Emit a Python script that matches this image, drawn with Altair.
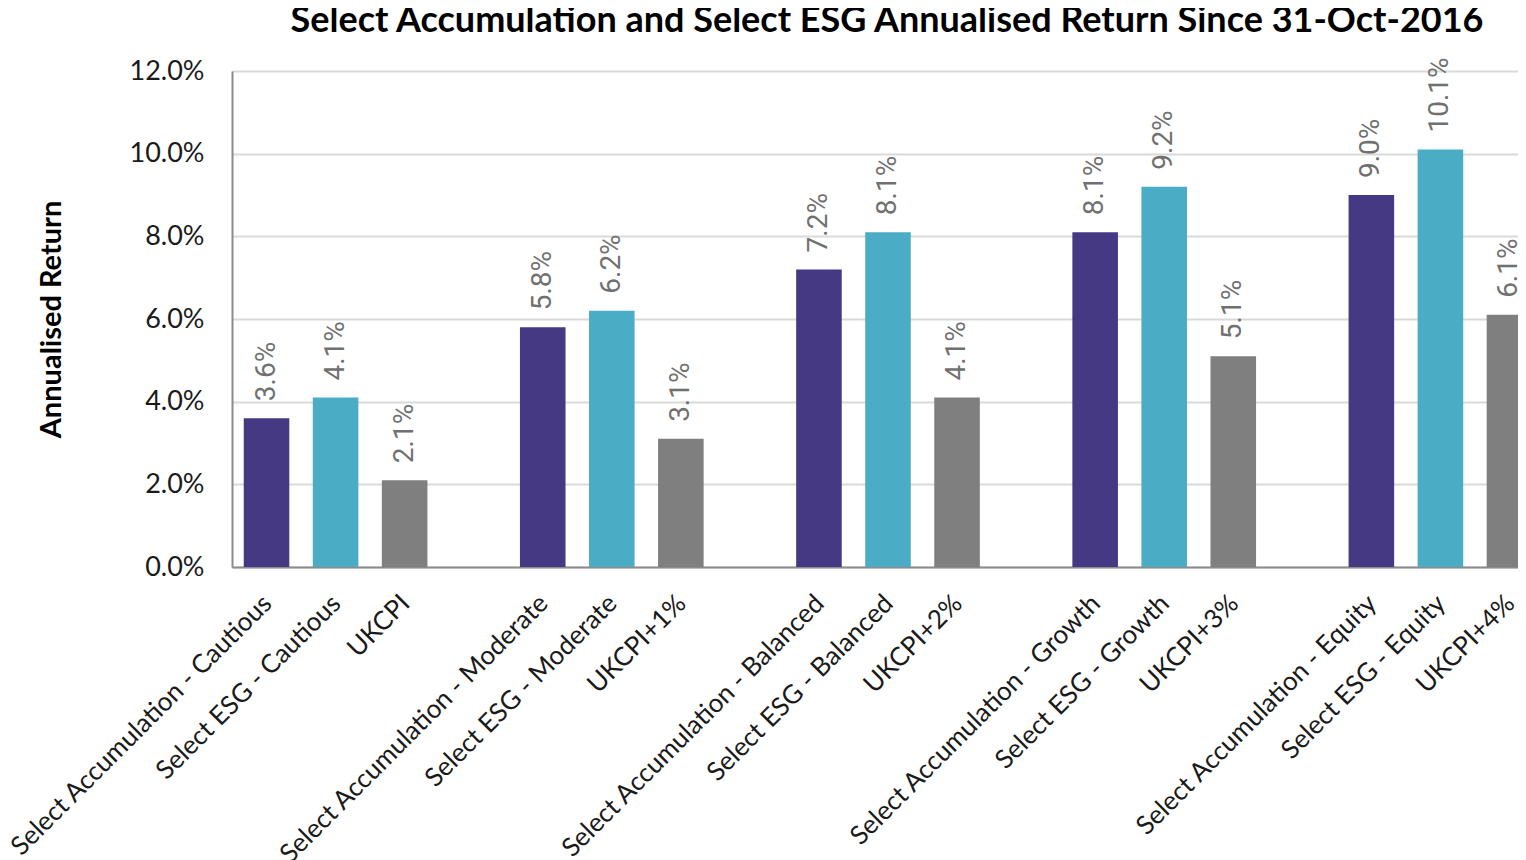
import altair as alt
import pandas as pd

categories = [
    "Select Accumulation - Cautious", "Select ESG - Cautious", "UKCPI",
    "Select Accumulation - Moderate", "Select ESG - Moderate", "UKCPI+1%",
    "Select Accumulation - Balanced", "Select ESG - Balanced", "UKCPI+2%",
    "Select Accumulation - Growth", "Select ESG - Growth", "UKCPI+3%",
    "Select Accumulation - Equity", "Select ESG - Equity", "UKCPI+4%",
]
series = ["Accumulation", "ESG", "UKCPI",
          "Accumulation", "ESG", "UKCPI",
          "Accumulation", "ESG", "UKCPI",
          "Accumulation", "ESG", "UKCPI",
          "Accumulation", "ESG", "UKCPI"]
values = [3.6, 4.1, 2.1,
          5.8, 6.2, 3.1,
          7.2, 8.1, 4.1,
          8.1, 9.2, 5.1,
          9.0, 10.1, 6.1]

# slot order with blank spacer slots between the groups
spacers = [" ", "  ", "   ", "    "]
order = []
for g in range(5):
    order += categories[g * 3:g * 3 + 3]
    if g < 4:
        order.append(spacers[g])

df = pd.DataFrame({
    "cat": categories,
    "series": series,
    "ret": [v / 100 for v in values],
})

FONT = "Lato"

x = alt.X("cat:N", sort=order,
          scale=alt.Scale(domain=order, paddingInner=0.34, paddingOuter=0.17, range=[0, 1312]),
          axis=alt.Axis(title=None, labelAngle=-45, labelAlign="right", labelBaseline="middle",
                        labelFontSize=26, labelColor="#1a1a1a", labelFont=FONT,
                        labelPadding=32, labelOffset=1, ticks=False, domainColor="#8c8c8c", domainWidth=2,
                        labelLimit=0))
y = alt.Y("ret:Q",
          scale=alt.Scale(domain=[0, 0.12], nice=False),
          axis=alt.Axis(title="Annualised Return", format=".1%", values=[0, 0.02, 0.04, 0.06, 0.08, 0.10, 0.12],
                        labelFontSize=27, labelColor="#1a1a1a", labelFont=FONT, labelPadding=28,
                        ticks=False, domainColor="#8c8c8c", domainWidth=2,
                        gridColor="#d9d9d9", gridWidth=2,
                        titleFont=FONT, titleFontSize=29, titleFontWeight="bold", titleColor="#000000",
                        titlePadding=63))

bars = alt.Chart(df).mark_bar().encode(
    x=x, y=y,
    color=alt.Color("series:N",
                    scale=alt.Scale(domain=["Accumulation", "ESG", "UKCPI"],
                                    range=["#463984", "#4BACC6", "#7F7F7F"]),
                    legend=None),
)

labels = alt.Chart(df).mark_text(angle=270, align="left", baseline="middle", dx=17,
                                 fontSize=28, color="#707070", font="Roboto").encode(
    x=alt.X("cat:N", sort=order), y=alt.Y("ret:Q"),
    text=alt.Text("ret:Q", format=".1%"),
)

chart = (bars + labels).properties(
    width=1286, height=496,
    title=alt.TitleParams("Select Accumulation and Select ESG Annualised Return Since 31-Oct-2016",
                          font=FONT, fontSize=36, fontWeight="bold", color="#000000",
                          anchor="middle", offset=17, dx=12),
    autosize=alt.AutoSizeParams(type="none"),
    padding={"left": 224, "top": 63, "right": 0, "bottom": 293},
).configure_view(stroke=None).configure(background="white")

chart.save("out.html", embed_options={"renderer": "svg", "actions": False})
